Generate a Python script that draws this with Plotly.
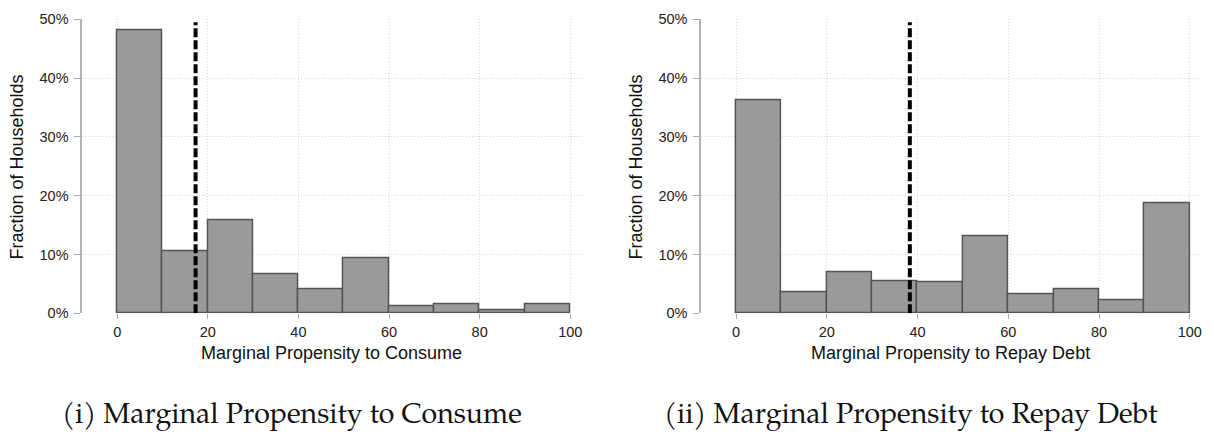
import plotly.graph_objects as go

# ---- data ----
bin_edges = [0, 10, 20, 30, 40, 50, 60, 70, 80, 90, 100]
mpc_share = [48.1, 10.5, 15.8, 6.7, 4.0, 9.4, 1.2, 1.5, 0.55, 1.5]       # % of households
mprd_share = [36.3, 3.6, 7.0, 5.5, 5.3, 13.1, 3.2, 4.1, 2.2, 18.7]       # % of households
mpc_mean = 17.3
mprd_mean = 38.3
mean_line_top = 49.5
x_ticks = [0, 20, 40, 60, 80, 100]
y_ticks = [0, 10, 20, 30, 40, 50]
y_ticklabels = ["0%", "10%", "20%", "30%", "40%", "50%"]
x_titles = ["Marginal Propensity to Consume", "Marginal Propensity to Repay Debt"]
y_title = "Fraction of Households"
captions = ["(i) Marginal Propensity to Consume", "(ii) Marginal Propensity to Repay Debt"]

W, H = 1214, 443
centers = [(a + b) / 2 for a, b in zip(bin_edges[:-1], bin_edges[1:])]
widths = [b - a for a, b in zip(bin_edges[:-1], bin_edges[1:])]

fig = go.Figure()
panels = [(mpc_share, mpc_mean, "x", "y"), (mprd_share, mprd_mean, "x2", "y2")]
for shares, mean, xa, ya in panels:
    fig.add_trace(go.Bar(
        x=centers, y=shares, width=widths, xaxis=xa, yaxis=ya,
        marker=dict(color="#9a9a9a", line=dict(color="#555555", width=1.5)),
        showlegend=False, hoverinfo="skip"))
    fig.add_trace(go.Scatter(
        x=[mean, mean], y=[0, mean_line_top], xaxis=xa, yaxis=ya, mode="lines",
        line=dict(color="black", width=4, dash="9px,3px"),
        showlegend=False, hoverinfo="skip"))

tickfont = dict(family="Liberation Sans, Arial, sans-serif", size=14.5, color="#222222")
grid = dict(showgrid=True, gridcolor="#d4d4d4", gridwidth=1, griddash="1px,2px", zeroline=False)

def xaxis(domain, rng, anchor):
    return dict(domain=domain, range=rng, anchor=anchor, tickvals=x_ticks,
                ticks="outside", ticklen=5, tickcolor="#aaaaaa", tickwidth=1.3,
                showline=False, tickfont=tickfont, fixedrange=True, **grid)

def yaxis(anchor):
    return dict(domain=[(H - 316.7) / H, (H - 11.8) / H], range=[0, 50], anchor=anchor,
                tickvals=y_ticks, ticktext=y_ticklabels, ticks="outside", ticklen=6,
                tickcolor="#aaaaaa", tickwidth=1.3, showline=True, linecolor="#b4b4b4",
                linewidth=1.5, tickfont=tickfont, fixedrange=True, ticklabelstandoff=3, **grid)

fig.update_layout(
    width=W, height=H, margin=dict(l=0, r=0, t=0, b=0),
    paper_bgcolor="white", plot_bgcolor="white", bargap=0,
    xaxis=xaxis([82.3 / W, 583 / W], [-7.72, 102.71], "y"),
    yaxis=yaxis("x"),
    xaxis2=xaxis([701.7 / W, 1201.7 / W], [-7.71, 102.42], "y2"),
    yaxis2=yaxis("x2"),
)

titlefont = dict(family="Liberation Sans, Arial, sans-serif", size=18, color="#111111")
capfont = dict(family="Palatino Linotype, Palatino, P052, TeX Gyre Pagella, DejaVu Serif, serif",
               size=28.5, color="#111111")
for i, (xc, ytc, capx) in enumerate([(332, 17, 292), (951.7, 636.5, 912)]):
    fig.add_annotation(text=x_titles[i], x=xc / W, y=(H - 358) / H, xref="paper", yref="paper",
                       showarrow=False, font=titlefont, xanchor="center", yanchor="middle")
    fig.add_annotation(text=y_title, x=ytc / W, y=(H - 164.5) / H, xref="paper", yref="paper",
                       showarrow=False, font=titlefont, textangle=-90, xanchor="center", yanchor="middle")
    fig.add_annotation(text=captions[i], x=capx / W, y=(H - 423) / H, xref="paper", yref="paper",
                       showarrow=False, font=capfont, xanchor="center", yanchor="middle")

fig.write_html("out.html", config={"displayModeBar": False},
               post_script="document.body.style.margin='0';document.body.style.overflow='hidden';")
